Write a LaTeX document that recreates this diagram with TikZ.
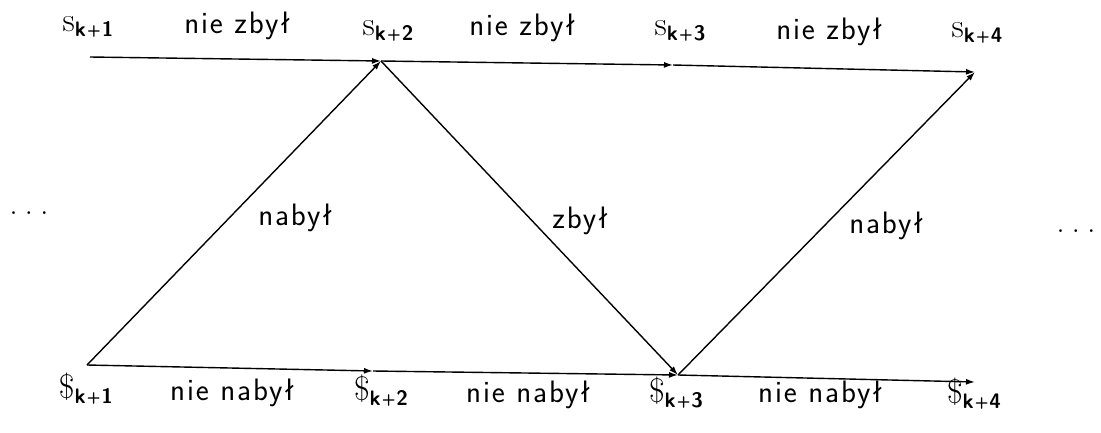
\documentclass[tikz,border=0pt]{standalone}
\usepackage{fontspec}
\usetikzlibrary{arrows.meta}
\newfontfamily\lsans{Latin Modern Sans}[LetterSpace=6]
\newcommand{\subk}[1]{\raisebox{-5pt}{\fontsize{21}{24}\sffamily\bfseries k\kern1pt{\fontsize{16}{18}\selectfont\raisebox{1pt}{+}}\kern1pt#1}}
\begin{document}
\begin{tikzpicture}[x=1pt,y=-1pt,
  arr/.style={line width=1.4pt,-{Latex[length=9pt,width=6pt]}},
  lbl/.style={anchor=base,inner sep=0pt,font=\fontsize{31}{37}\lsans},
  st/.style={anchor=base,inner sep=0pt,font=\fontsize{34}{40}\selectfont}]
\useasboundingbox (0,0) rectangle (1101,432);
% points
\coordinate (t1) at (90,57);
\coordinate (t2) at (381,61);
\coordinate (t3) at (673,65);
\coordinate (t4) at (975,72);
\coordinate (b1) at (87,365);
\coordinate (b2) at (373,371);
\coordinate (b3) at (678,375);
\coordinate (b4) at (975,382);
% top labels
\node[st] (s1) at (88,31) {s\subk{1}};
\node[lbl] (nz1) at (237,33) {nie zbył};
\node[st] (s2) at (388,35) {s\subk{2}};
\node[lbl] (nz2) at (522,35) {nie zbył};
\node[st] (s3) at (680,35) {s\subk{3}};
\node[lbl] (nz3) at (829,39) {nie zbył};
\node[st] (s4) at (977,37) {s\subk{4}};
% bottom labels
\node[st] (d1) at (86,398) {\$\subk{1}};
\node[lbl] (nn1) at (232,400) {nie nabył};
\node[st] (d2) at (381,400) {\$\subk{2}};
\node[lbl] (nn2) at (528,402) {nie nabył};
\node[st] (d3) at (676,402) {\$\subk{3}};
\node[lbl] (nn3) at (820,402) {nie nabył};
\node[st] (d4) at (974,403) {\$\subk{4}};
% diagonal labels
\node[lbl] (n1) at (295,225) {nabył};
\node[lbl] (z1) at (580,228) {zbył};
\node[lbl] (n2) at (886,233) {nabył};
% dots
\node[st] (dl) at (29,214) {.\hspace{7pt}.\hspace{7pt}.};
\node[st] (dr) at (1076,232) {.\hspace{7pt}.\hspace{7pt}.};
% lines
\draw[arr] (t1) -- (t2);
\draw[arr] (t2) -- (t3);
\draw[arr] (t3) -- (t4);
\draw[arr] (b1) -- (b2);
\draw[arr] (b2) -- (b3);
\draw[arr] (b3) -- (b4);
\draw[arr] (b1) -- (t2);
\draw[arr] (t2) -- (b3);
\draw[arr] (b3) -- (t4);
\end{tikzpicture}
\end{document}
